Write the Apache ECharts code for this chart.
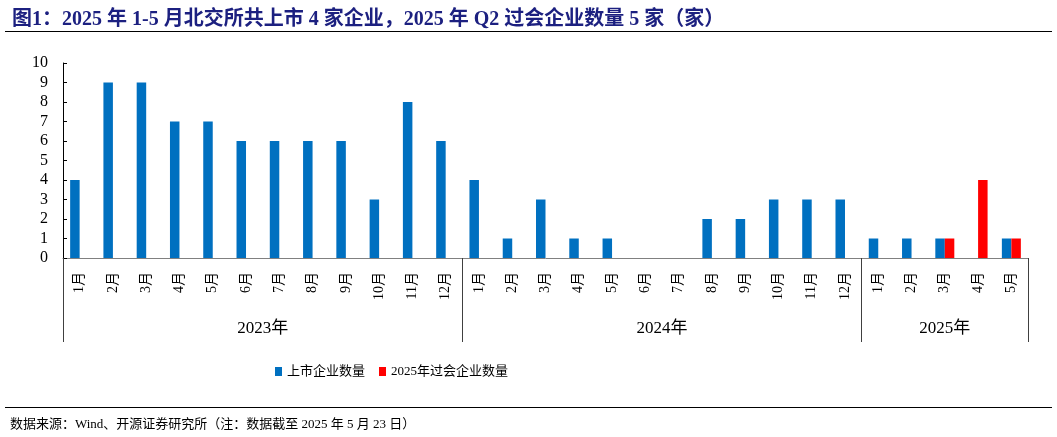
<!DOCTYPE html>
<html><head><meta charset="utf-8">
<script src="https://cdn.jsdelivr.net/npm/echarts@6/dist/echarts.min.js"></script>
<style>html,body{margin:0;padding:0;background:#fff}#c{width:1057px;height:437px}</style>
</head><body><div id="c"></div>
<script>
const monthLabels = ['1月','2月','3月','4月','5月','6月','7月','8月','9月','10月','11月','12月',
  '1月','2月','3月','4月','5月','6月','7月','8月','9月','10月','11月','12月',
  '1月','2月','3月','4月','5月'];
const yearLabels = ['2023年','2024年','2025年'];
const yearMonthCounts = [12,12,5];
const listed = [4,9,9,7,7,6,6,6,6,3,8,6, 4,1,3,1,1,0,0,2,2,3,3,3, 1,1,1,0,1];
const approved = [null,null,null,null,null,null,null,null,null,null,null,null,
  null,null,null,null,null,null,null,null,null,null,null,null, null,null,1,4,1];
const yTicks = [0,1,2,3,4,5,6,7,8,9,10];

const FONT = '"Liberation Serif","Noto Sans CJK SC",serif';
// half-month positions for the year axis
const nHalf = monthLabels.length * 2 + 1;
const halfCats = [], halfText = {}, boundaries = [];
let start = 0;
yearLabels.forEach((y, i) => {
  boundaries.push(2 * start);
  halfText[2 * start + yearMonthCounts[i]] = y;
  start += yearMonthCounts[i];
});
boundaries.push(2 * start);
for (let i = 0; i < nHalf; i++) halfCats.push('h' + i);

const chart = echarts.init(document.getElementById('c'));
const gridBox = {left: 63, right: 29, top: 63, bottom: 179, containLabel: false};
chart.setOption({
  animation: false,
  title: [
    {text: '图1：2025 年 1-5 月北交所共上市 4 家企业，2025 年 Q2 过会企业数量 5 家（家）', left: 7, top: 5,
     textStyle: {fontSize: 20, fontWeight: 'bold', color: '#1C2080', fontFamily: FONT}},
    {text: '数据来源：Wind、开源证券研究所（注：数据截至 2025 年 5 月 23 日）', left: 5, top: 413,
     textStyle: {fontSize: 13, fontWeight: 'normal', color: '#000', fontFamily: FONT}}
  ],
  graphic: [
    {type: 'line', shape: {x1: 5, y1: 31.5, x2: 1052, y2: 31.5}, style: {stroke: '#000', lineWidth: 1.2}},
    {type: 'line', shape: {x1: 5, y1: 407.5, x2: 1052, y2: 407.5}, style: {stroke: '#000', lineWidth: 1.2}}
  ],
  legend: {
    left: 270, top: 360, icon: 'rect', itemWidth: 7, itemHeight: 9, itemGap: 14,
    textStyle: {fontSize: 13, color: '#000', fontFamily: FONT},
    data: ['上市企业数量', '2025年过会企业数量']
  },
  grid: [Object.assign({}, gridBox), Object.assign({}, gridBox)],
  xAxis: [
    {type: 'category', gridIndex: 0, data: monthLabels, position: 'bottom',
     axisLine: {lineStyle: {color: '#808080', width: 1}},
     axisTick: {length: 48, alignWithLabel: false, interval: 0, lineStyle: {color: '#404040'}},
     axisLabel: {rotate: 90, interval: 0, margin: 14, fontSize: 14, color: '#000', fontFamily: FONT}},
    {type: 'category', gridIndex: 1, data: halfCats, boundaryGap: false, position: 'bottom',
     axisLine: {show: false},
     axisTick: {length: 84, interval: (idx) => boundaries.includes(idx), lineStyle: {color: '#404040'}},
     axisLabel: {interval: 0, margin: 62, fontSize: 17, color: '#000', fontFamily: FONT,
       formatter: (v, idx) => halfText[idx] || ''}}
  ],
  yAxis: [
    {type: 'value', gridIndex: 0, min: yTicks[0], max: yTicks[yTicks.length - 1], interval: 1,
     splitLine: {show: false},
     axisLine: {show: true, lineStyle: {color: '#000'}},
     axisTick: {show: true, inside: true, length: 4, lineStyle: {color: '#000'}},
     axisLabel: {margin: 15, fontSize: 16, color: '#000', fontFamily: FONT}},
    {type: 'value', gridIndex: 1, min: 0, max: 10, show: false}
  ],
  series: [
    {name: '上市企业数量', type: 'bar', xAxisIndex: 0, yAxisIndex: 0, data: listed,
     barWidth: 9.5, barGap: '0%', itemStyle: {color: '#0070C0'}},
    {name: '2025年过会企业数量', type: 'bar', xAxisIndex: 0, yAxisIndex: 0, data: approved,
     barWidth: 9.5, barGap: '0%', itemStyle: {color: '#FF0000'}}
  ]
});
</script></body></html>
